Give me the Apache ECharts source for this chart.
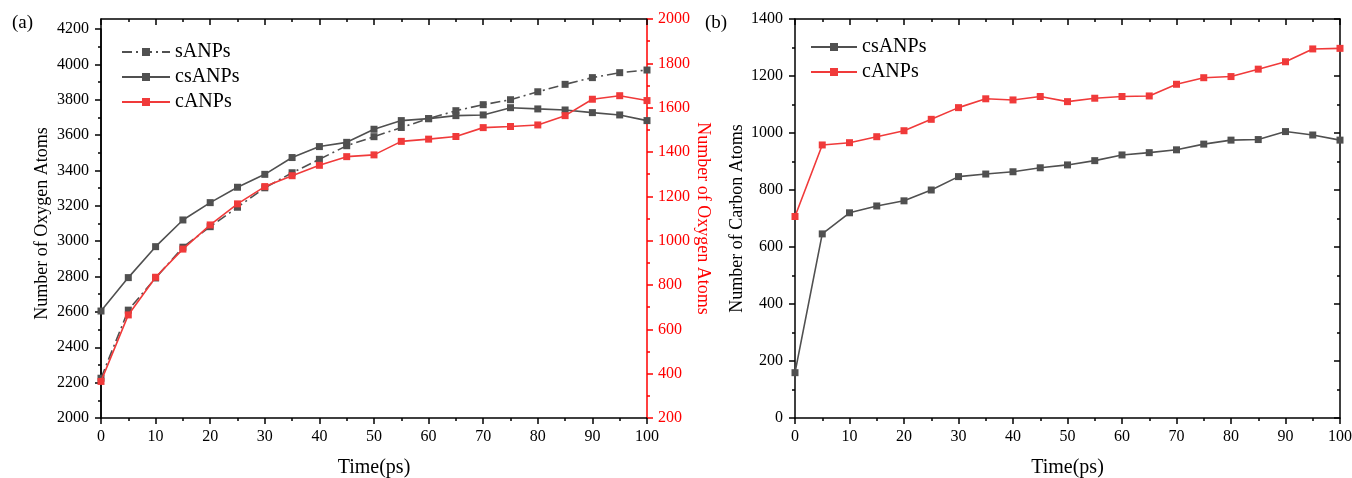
<!DOCTYPE html>
<html>
<head>
<meta charset="utf-8">
<script src="https://cdn.jsdelivr.net/npm/echarts@6/dist/echarts.min.js"></script>
<style>
html,body{margin:0;padding:0;background:#fff;}
#chart{width:1352px;height:478px;}
</style>
</head>
<body>
<div id="chart"></div>
<script>
// ---- data ----
var times = [0,5,10,15,20,25,30,35,40,45,50,55,60,65,70,75,80,85,90,95,100];
var sANPs_O  = [2225,2610,2792,2966,3082,3192,3302,3387,3463,3540,3591,3643,3693,3738,3772,3800,3845,3887,3925,3953,3968];
var csANPs_O = [2605,2794,2969,3120,3218,3305,3378,3473,3535,3559,3633,3682,3693,3710,3714,3755,3748,3742,3727,3714,3682];
var cANPs_O  = [365,665,835,962,1071,1166,1244,1293,1340,1379,1387,1448,1458,1470,1510,1515,1522,1564,1638,1654,1632];
var csANPs_C = [159,646,720,744,762,800,847,856,864,878,888,903,923,931,941,961,975,977,1005,993,975];
var cANPs_C  = [707,958,966,987,1008,1048,1089,1120,1116,1128,1110,1122,1128,1130,1171,1194,1198,1224,1250,1295,1297];
var seriesNames = ['sANPs','csANPs','cANPs'];
var xTitle = 'Time(ps)';
var yTitleO = 'Number of Oxygen Atoms';
var yTitleC = 'Number of Carbon Atoms';
var panelLabels = ['(a)','(b)'];

function pairs(xs, ys){ return xs.map(function(x,i){ return [x, ys[i]]; }); }
function plain(v){ return String(v); }

var FONT = 'Liberation Serif';
var GRAY = '#505050';
var RED = '#f03a3a';
var AXRED = '#ff0000';

function xBottom(grid){
  return {type:'value', gridIndex:grid, position:'bottom', min:0, max:100, interval:10,
    name: xTitle, nameLocation:'middle', nameGap:40,
    nameTextStyle:{fontFamily:FONT, fontSize:20, color:'#000'},
    axisLine:{show:true, onZero:false, lineStyle:{color:'#000', width:1.5}},
    axisTick:{show:true, inside:false, length:6, lineStyle:{color:'#000', width:1.5}},
    minorTick:{show:true, splitNumber:2, length:3, lineStyle:{color:'#000', width:1.5}},
    axisLabel:{show:true, margin:11, fontFamily:FONT, fontSize:16, color:'#000', formatter:plain},
    splitLine:{show:false}};
}
function xTop(grid){
  return {type:'value', gridIndex:grid, position:'top', min:0, max:100, interval:10,
    axisLine:{show:true, onZero:false, lineStyle:{color:'#000', width:1.5}},
    axisTick:{show:true, inside:true, length:6, lineStyle:{color:'#000', width:1.5}},
    minorTick:{show:true, splitNumber:2, length:3, lineStyle:{color:'#000', width:1.5}},
    axisLabel:{show:false}, splitLine:{show:false}};
}

var option = {
  animation:false,
  backgroundColor:'#fff',
  textStyle:{fontFamily:FONT},
  grid:[
    {left:101, top:19, width:546, height:399, outerBoundsMode:'none', containLabel:false},
    {left:101, top:29, width:546, height:389, outerBoundsMode:'none', containLabel:false},
    {left:795, top:19, width:545, height:399, outerBoundsMode:'none', containLabel:false}
  ],
  graphic:[
    {type:'text', left:12, top:14, style:{text:panelLabels[0], font:'19px "Liberation Serif"', fill:'#000'}},
    {type:'text', left:705, top:14, style:{text:panelLabels[1], font:'19px "Liberation Serif"', fill:'#000'}}
  ],
  legend:[
    {data:seriesNames, orient:'vertical', left:121, top:42, padding:0, itemWidth:48, itemHeight:10, itemGap:5,
     selectedMode:false, textStyle:{fontFamily:FONT, fontSize:20, color:'#000', lineHeight:20}},
    {data:['csANPs','cANPs'], orient:'vertical', left:810, top:37, padding:0, itemWidth:46, itemHeight:10, itemGap:5,
     selectedMode:false, textStyle:{fontFamily:FONT, fontSize:20, color:'#000', lineHeight:20}}
  ],
  xAxis:[
    xBottom(0),
    xTop(0),
    {type:'value', gridIndex:1, min:0, max:100, show:false},
    xBottom(2),
    xTop(2)
  ],
  yAxis:[
    {type:'value', gridIndex:0, position:'left', min:2000, max:4256,
     axisLine:{show:true, onZero:false, lineStyle:{color:'#000', width:1.5}},
     axisTick:{show:false}, axisLabel:{show:false}, splitLine:{show:false}},
    {type:'value', gridIndex:0, position:'right', min:200, max:2000, interval:200,
     name:yTitleO, nameLocation:'middle', nameGap:43, nameRotate:-90,
     nameTextStyle:{fontFamily:FONT, fontSize:18, color:AXRED},
     axisLine:{show:true, onZero:false, lineStyle:{color:AXRED, width:1.5}},
     axisTick:{show:true, inside:false, length:6, lineStyle:{color:AXRED, width:1.5}},
     minorTick:{show:true, splitNumber:2, length:3, lineStyle:{color:AXRED, width:1.5}},
     axisLabel:{show:true, margin:11, fontFamily:FONT, fontSize:16, color:AXRED, formatter:plain},
     splitLine:{show:false}},
    {type:'value', gridIndex:1, position:'left', min:2000, max:4200, interval:200,
     name:yTitleO, nameLocation:'middle', nameGap:50,
     nameTextStyle:{fontFamily:FONT, fontSize:18, color:'#000'},
     axisLine:{show:true, onZero:false, lineStyle:{color:'#000', width:1.5}},
     axisTick:{show:true, inside:false, length:6, lineStyle:{color:'#000', width:1.5}},
     minorTick:{show:true, splitNumber:2, length:3, lineStyle:{color:'#000', width:1.5}},
     axisLabel:{show:true, margin:12, fontFamily:FONT, fontSize:16, color:'#000', formatter:plain},
     splitLine:{show:false}},
    {type:'value', gridIndex:2, position:'left', min:0, max:1400, interval:200,
     name:yTitleC, nameLocation:'middle', nameGap:49,
     nameTextStyle:{fontFamily:FONT, fontSize:18, color:'#000'},
     axisLine:{show:true, onZero:false, lineStyle:{color:'#000', width:1.5}},
     axisTick:{show:true, inside:false, length:6, lineStyle:{color:'#000', width:1.5}},
     minorTick:{show:true, splitNumber:2, length:3, lineStyle:{color:'#000', width:1.5}},
     axisLabel:{show:true, margin:12, fontFamily:FONT, fontSize:16, color:'#000', formatter:plain},
     splitLine:{show:false}},
    {type:'value', gridIndex:2, position:'right', min:0, max:1400, interval:200,
     axisLine:{show:true, onZero:false, lineStyle:{color:'#000', width:1.5}},
     axisTick:{show:true, inside:true, length:6, lineStyle:{color:'#000', width:1.5}},
     minorTick:{show:true, splitNumber:2, length:3, lineStyle:{color:'#000', width:1.5}},
     axisLabel:{show:false}, splitLine:{show:false}}
  ],
  series:[
    {name:'sANPs', type:'line', xAxisIndex:2, yAxisIndex:2, data:pairs(times, sANPs_O),
     symbol:'rect', symbolSize:7, color:GRAY, itemStyle:{color:GRAY},
     lineStyle:{color:GRAY, width:1.6, type:[10,4,2,4]}, z:3},
    {name:'csANPs', type:'line', xAxisIndex:2, yAxisIndex:2, data:pairs(times, csANPs_O),
     symbol:'rect', symbolSize:7, color:GRAY, itemStyle:{color:GRAY},
     lineStyle:{color:GRAY, width:1.6}, z:3},
    {name:'cANPs', type:'line', xAxisIndex:0, yAxisIndex:1, data:pairs(times, cANPs_O),
     symbol:'rect', symbolSize:7, color:RED, itemStyle:{color:RED},
     lineStyle:{color:RED, width:1.6}, z:4},
    {name:'csANPs', type:'line', xAxisIndex:3, yAxisIndex:3, data:pairs(times, csANPs_C),
     symbol:'rect', symbolSize:7, color:GRAY, itemStyle:{color:GRAY},
     lineStyle:{color:GRAY, width:1.6}, z:3},
    {name:'cANPs', type:'line', xAxisIndex:3, yAxisIndex:3, data:pairs(times, cANPs_C),
     symbol:'rect', symbolSize:7, color:RED, itemStyle:{color:RED},
     lineStyle:{color:RED, width:1.6}, z:3}
  ]
};
var chart = echarts.init(document.getElementById('chart'), null, {renderer:'canvas'});
chart.setOption(option);
</script>
</body>
</html>
